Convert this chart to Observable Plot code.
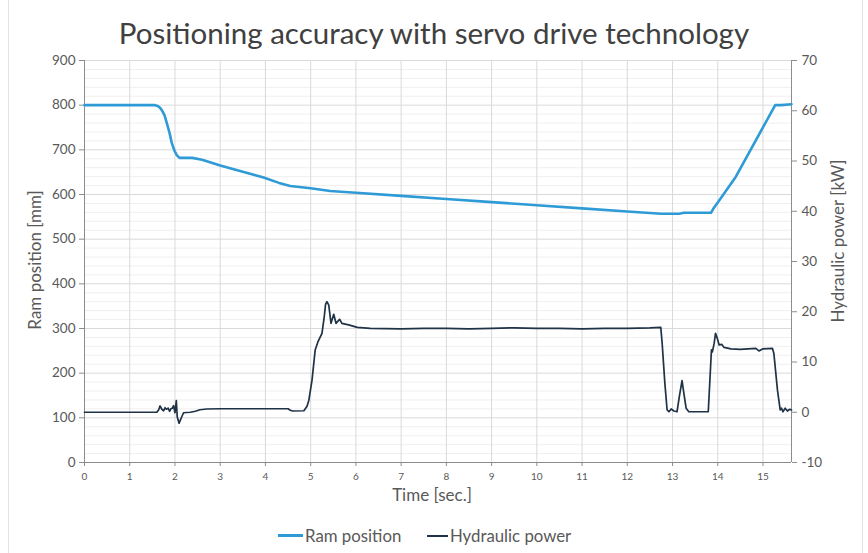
<!DOCTYPE html>
<html>
<head>
<meta charset="utf-8">
<script src="https://cdn.jsdelivr.net/npm/d3@7"></script>
<script src="https://cdn.jsdelivr.net/npm/@observablehq/plot@0.6"></script>
<style>
  html, body { margin: 0; padding: 0; background: #fff; }
  #wrap { position: relative; width: 868px; height: 553px; overflow: hidden; font-family: Lato, "Open Sans", sans-serif; }
  #frame { position: absolute; left: 8px; top: -2px; width: 855px; height: 560px; border: 1px solid #e3e3e3; box-sizing: border-box; }
  #title { position: absolute; top: 15px; left: 0; width: 868px; text-align: center; font-size: 29.5px; color: #404040; line-height: 1.2; }
  #chart { position: absolute; top: 40px; left: 0; }
  #legend { position: absolute; top: 525px; left: 0; width: 868px; font-size: 16.8px; color: #595959; }
  .item { position: absolute; display: flex; align-items: center; white-space: nowrap; }
  .swatch { display: inline-block; margin-right: 2px; }
  .atitle { position: absolute; width: 300px; height: 20px; line-height: 20px; text-align: center; font-size: 17px; color: #595959; white-space: nowrap; }
</style>
</head>
<body>
<div id="wrap">
  <div id="frame"></div>
  <div id="title">Positioning accuracy with servo drive technology</div>
  <div id="chart"></div>
  <div class="atitle" id="ylabel" style="left:-115px; top:250px; transform: rotate(-90deg);"></div>
  <div class="atitle" id="y2label" style="left:688px; top:231px; transform: rotate(-90deg);"></div>
  <div class="atitle" id="xlabel" style="left:282px; top:485px;"></div>
  <div id="legend"></div>
</div>
<script>
// ---- Data ----
const ramTime = [0, 1.56, 1.62, 1.67, 1.71, 1.77, 1.82, 1.88, 1.93, 1.99, 2.04, 2.10, 2.38, 2.6, 3.0, 3.5, 3.96, 4.3, 4.55, 5.0, 5.43, 6, 7, 8, 9, 10, 11, 12, 12.75, 13.15, 13.25, 13.85, 13.9, 14.0, 14.4, 15.27, 15.4, 15.63];
const ramPos  = [800, 800, 798, 794, 789, 777, 760, 738, 715, 698, 688, 682, 682, 678, 665, 651, 638, 626, 619, 614, 608, 604, 597, 590, 583, 576, 569, 562, 557, 557, 559, 559, 568, 582, 640, 800, 800, 802];

const powerTime = [0, 1.60, 1.64, 1.67, 1.71, 1.75, 1.78, 1.81, 1.85, 1.88, 1.91, 1.94, 1.97, 2.00, 2.03, 2.05, 2.09, 2.15, 2.19, 2.34, 2.45, 2.55, 2.7, 3.0, 3.5, 4.0, 4.5, 4.55, 4.6, 4.85, 4.92, 4.96, 5.03, 5.1, 5.16, 5.25, 5.30, 5.33, 5.36, 5.40, 5.45, 5.51, 5.56, 5.64, 5.69, 5.84, 6.03, 6.32, 7, 7.5, 8, 8.5, 9, 9.5, 10, 10.5, 11, 11.5, 12, 12.5, 12.74, 12.77, 12.83, 12.88, 12.92, 12.97, 13.03, 13.1, 13.15, 13.21, 13.25, 13.3, 13.36, 13.79, 13.83, 13.86, 13.88, 13.92, 13.95, 13.99, 14.03, 14.09, 14.14, 14.29, 14.5, 14.84, 14.91, 14.99, 15.21, 15.24, 15.32, 15.38, 15.41, 15.44, 15.49, 15.54, 15.59, 15.63];
const powerKw   = [0, 0, 0.5, 1.25, 0.6, 0.3, 0.9, 0.6, 0.8, 0.2, 0.7, 0.8, 1.3, -0.1, 2.3, -0.9, -2.2, -0.9, -0.1, 0, 0.2, 0.5, 0.65, 0.7, 0.7, 0.7, 0.7, 0.4, 0.25, 0.3, 1.2, 2.4, 6.4, 12.4, 14.0, 15.7, 19.0, 21.5, 22.0, 21.3, 17.7, 19.5, 17.7, 18.5, 17.7, 17.4, 16.9, 16.7, 16.6, 16.7, 16.7, 16.6, 16.7, 16.8, 16.7, 16.7, 16.6, 16.7, 16.7, 16.8, 16.9, 13.8, 5.8, 0.45, 0.1, 0.65, 0.25, 0.1, 3.1, 6.3, 3.8, 0.8, 0.1, 0.1, 7.1, 12.4, 12.0, 13.7, 15.7, 14.7, 13.4, 13.5, 12.9, 12.6, 12.5, 12.7, 12.2, 12.6, 12.7, 11.7, 4.4, 0.45, 0.8, 0.1, 0.8, 0.25, 0.6, 0.45];

const xTicks = [0, 1, 2, 3, 4, 5, 6, 7, 8, 9, 10, 11, 12, 13, 14, 15];
const leftTicks = [0, 100, 200, 300, 400, 500, 600, 700, 800, 900];
const rightTicks = [-10, 0, 10, 20, 30, 40, 50, 60, 70];
const seriesNames = ["Ram position", "Hydraulic power"];
const seriesColors = ["#2e9bd6", "#1f3246"];
const axisTitles = ["Time [sec.]", "Ram position [mm]", "Hydraulic power [kW]"];
const xMax = 15.63;

// map kW (right axis, -10..70) onto the mm scale (0..900)
const kwToMm = kw => (kw + 10) * 900 / 80;
const mmToKw = mm => Math.round(mm * 80 / 900 - 10);

const ram = ramTime.map((t, i) => ({t, v: ramPos[i]}));
const power = powerTime.map((t, i) => ({t, v: kwToMm(powerKw[i])}));
const minorY = d3.range(0, 901, 20).filter(d => d % 100 !== 0);

const axisGray = "#8c8c8c";
const textGray = "#595959";

const chart = Plot.plot({
  width: 868,
  height: 470,
  marginTop: 20,
  marginBottom: 48,
  marginLeft: 84,
  marginRight: 77,
  style: {fontFamily: "Lato, 'Open Sans', sans-serif", color: textGray, background: "transparent"},
  x: {domain: [0, xMax]},
  y: {domain: [0, 900]},
  marks: [
    Plot.gridY(minorY, {stroke: "#efefef", strokeOpacity: 1}),
    Plot.gridY(leftTicks.slice(1), {stroke: "#d9d9d9", strokeOpacity: 1}),
    Plot.gridX(xTicks.slice(1), {stroke: "#d9d9d9", strokeOpacity: 1}),
    Plot.ruleX([0, xMax], {stroke: axisGray}),
    Plot.ruleY([0], {stroke: axisGray}),
    Plot.axisY(leftTicks, {anchor: "left", tickSize: 5, tickPadding: 4, fontSize: 13.5, stroke: axisGray, fill: textGray, label: null}),
    Plot.axisY(rightTicks.map(kwToMm), {anchor: "right", tickSize: 5, tickPadding: 5, fontSize: 13.5, stroke: axisGray, fill: textGray, tickFormat: d => String(mmToKw(d)), label: null}),
    Plot.axisX(xTicks, {anchor: "bottom", tickSize: 4, tickPadding: 6, fontSize: 10, stroke: axisGray, fill: textGray, label: null}),
    Plot.line(power, {x: "t", y: "v", stroke: seriesColors[1], strokeWidth: 1.7}),
    Plot.line(ram, {x: "t", y: "v", stroke: seriesColors[0], strokeWidth: 2.6, strokeLinejoin: "round"})
  ]
});
document.getElementById("chart").appendChild(chart);

document.getElementById("xlabel").textContent = axisTitles[0];
document.getElementById("ylabel").textContent = axisTitles[1];
document.getElementById("y2label").textContent = axisTitles[2];

// legend
const legend = document.getElementById("legend");
const legendLeft = [278, 427];
seriesNames.forEach((name, i) => {
  const item = document.createElement("div");
  item.className = "item";
  item.style.left = legendLeft[i] + "px";
  item.style.top = "0px";
  const sw = document.createElement("span");
  sw.className = "swatch";
  sw.style.width = (i === 0 ? 25 : 21) + "px";
  sw.style.borderTop = (i === 0 ? 3 : 2) + "px solid " + seriesColors[i];
  const label = document.createElement("span");
  label.textContent = name;
  item.appendChild(sw);
  item.appendChild(label);
  legend.appendChild(item);
});
</script>
</body>
</html>
